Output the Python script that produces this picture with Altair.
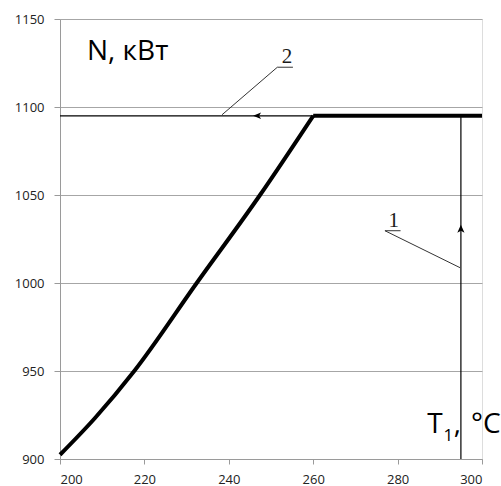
import altair as alt
import pandas as pd

# main curve (thick): rising part and flat part
temp_rise = [200, 208.3, 217.6, 232.4, 247.4, 260]
power_rise = [902.4, 923.3, 950, 1000, 1050, 1095]
temp_flat = [260, 300]
power_flat = [1095, 1095]

# thin horizontal line "2" and vertical line "1"
h_x = [200, 295]
h_y = [1095, 1095]
v_x = [295, 295]
v_y = [900, 1095]

# arrowheads
arr_left_x, arr_left_y = [246.7], [1095]
arr_up_x, arr_up_y = [295], [1030.8]

# leader lines / underlines for labels
lead_x = [251.5, 251.5, 277.0, 277.0]
lead_y = [1122.6, 1122.6, 1029.7, 1029.7]
lead_x2 = [238.4, 255.2, 294.8, 280.7]
lead_y2 = [1095.6, 1122.6, 1008.7, 1029.7]

num_labels = ["2", "1"]
num_x = [253.8, 279.1]
num_y = [1125.2, 1031.6]

x_ticks = [200, 220, 240, 260, 280, 300]
y_ticks = [900, 950, 1000, 1050, 1100, 1150]

x_scale = alt.Scale(domain=[200, 300], nice=False, zero=False)
y_scale = alt.Scale(domain=[900, 1150], nice=False, zero=False)

W, H = 422, 440

base_axes = alt.Chart(pd.DataFrame({"T": temp_rise, "N": power_rise})).mark_line(
    color="black", strokeWidth=4, interpolate="monotone").encode(
    x=alt.X("T:Q", scale=x_scale, axis=alt.Axis(
        values=x_ticks, format="d", title=None, grid=False,
        tickSize=5, tickColor="#9a9a9a", domainColor="#9a9a9a",
        labelFont="Open Sans", labelFontSize=13, labelColor="#222222", labelPadding=9)),
    y=alt.Y("N:Q", scale=y_scale, axis=alt.Axis(
        values=y_ticks, format="d", title=None, grid=True,
        gridColor="#a6a6a6", gridWidth=1,
        tickSize=6, tickColor="#9a9a9a", domainColor="#9a9a9a",
        labelFont="Open Sans", labelFontSize=13, labelColor="#222222", labelPadding=10)),
)

flat = alt.Chart(pd.DataFrame({"T": temp_flat, "N": power_flat})).mark_line(
    color="black", strokeWidth=4).encode(
    x=alt.X("T:Q", scale=x_scale), y=alt.Y("N:Q", scale=y_scale))

h_line = alt.Chart(pd.DataFrame({"T": h_x, "N": h_y})).mark_line(color="black", strokeWidth=1.2).encode(
    x=alt.X("T:Q", scale=x_scale), y=alt.Y("N:Q", scale=y_scale))
v_line = alt.Chart(pd.DataFrame({"T": v_x, "N": v_y})).mark_line(color="black", strokeWidth=1.2).encode(
    x=alt.X("T:Q", scale=x_scale), y=alt.Y("N:Q", scale=y_scale))

left_arrow = alt.Chart(pd.DataFrame({"T": arr_left_x, "N": arr_left_y})).mark_point(
    shape="M -1 0 L 1 -0.8 L 0.5 0 L 1 0.8 Z", filled=True, color="black", size=64, opacity=1).encode(
    x=alt.X("T:Q", scale=x_scale), y=alt.Y("N:Q", scale=y_scale))
up_arrow = alt.Chart(pd.DataFrame({"T": arr_up_x, "N": arr_up_y})).mark_point(
    shape="M 0 -1 L 0.9 1 L 0 0.5 L -0.9 1 Z", filled=True, color="black", size=64, opacity=1).encode(
    x=alt.X("T:Q", scale=x_scale), y=alt.Y("N:Q", scale=y_scale))

leaders = alt.Chart(pd.DataFrame({"x": lead_x, "y": lead_y, "x2": lead_x2, "y2": lead_y2})).mark_rule(
    color="#333333", strokeWidth=1).encode(
    x=alt.X("x:Q", scale=x_scale), y=alt.Y("y:Q", scale=y_scale), x2="x2:Q", y2="y2:Q")

nums = alt.Chart(pd.DataFrame({"x": num_x, "y": num_y, "t": num_labels})).mark_text(
    font="Liberation Serif", fontSize=21, color="#1a1a1a", align="center", baseline="alphabetic").encode(
    x=alt.X("x:Q", scale=x_scale), y=alt.Y("y:Q", scale=y_scale), text="t:N")

# axis name texts
n_title = alt.Chart(pd.DataFrame({"x": [206.4], "y": [1126.9], "t": ["N, кВт"]})).mark_text(
    font="Open Sans", fontSize=28, color="black", align="left", baseline="alphabetic").encode(
    x=alt.X("x:Q", scale=x_scale), y=alt.Y("y:Q", scale=y_scale), text="t:N")

t_parts = ["T", "1", ",", "°C"]
t_x = [287.0, 290.9, 293.3, 297.4]
t_y = [915.0, 910.4, 915.0, 915.0]
t_size = [28, 17, 28, 28]
t_df = pd.DataFrame({"x": t_x, "y": t_y, "t": t_parts, "s": t_size})
t_title = alt.Chart(t_df).mark_text(
    font="Open Sans", color="black", align="left", baseline="alphabetic").encode(
    x=alt.X("x:Q", scale=x_scale), y=alt.Y("y:Q", scale=y_scale), text="t:N",
    size=alt.Size("s:Q", scale=None, legend=None))

chart = alt.layer(base_axes, flat, h_line, v_line, left_arrow, up_arrow, leaders, nums, n_title, t_title).properties(
    width=W, height=H,
    autosize=alt.AutoSizeParams(type="none"),
    padding={"left": 60, "top": 19, "right": 19, "bottom": 27},
).configure_view(stroke=None).configure(background="white")

chart.save("out.html", embed_options={"renderer": "svg", "actions": False})
